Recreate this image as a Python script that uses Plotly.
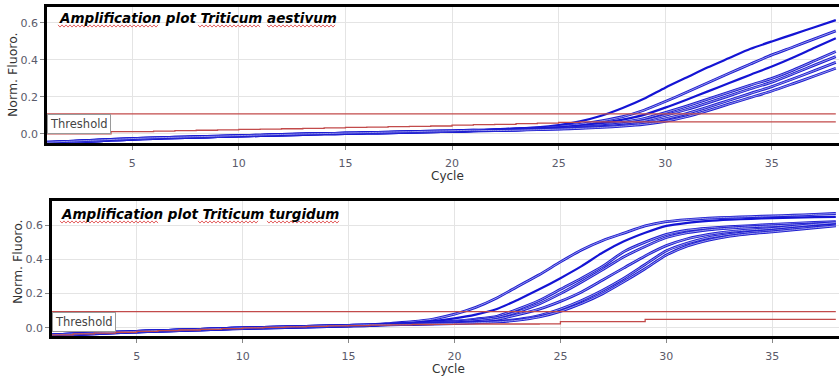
import plotly.graph_objects as go

W, H = 839, 377

cycles = list(range(1, 39))

# ---------- Top panel: Triticum aestivum ----------
top_base_a = [-0.045, -0.04, -0.035, -0.03, -0.025, -0.021, -0.018, -0.015, -0.012, -0.009, -0.006,
              -0.003, 0.0, 0.002, 0.005, 0.007, 0.01, 0.012, 0.015, 0.017, 0.02]
top_base_b = [-0.05, -0.045, -0.04, -0.034, -0.029, -0.025, -0.021, -0.018, -0.015, -0.012, -0.009,
              -0.006, -0.003, 0.0, 0.002, 0.004, 0.006, 0.009, 0.011, 0.013, 0.016]
top_tail_1 = [0.025, 0.03, 0.036, 0.048, 0.068, 0.098, 0.14, 0.19, 0.25, 0.305, 0.36, 0.41, 0.46, 0.50, 0.538, 0.577, 0.615]
top_tail_2 = [0.022, 0.027, 0.032, 0.04, 0.052, 0.07, 0.093, 0.128, 0.175, 0.225, 0.277, 0.328, 0.378, 0.427, 0.47, 0.514, 0.557]
top_tail_3 = [0.022, 0.026, 0.03, 0.035, 0.045, 0.058, 0.077, 0.103, 0.142, 0.185, 0.23, 0.275, 0.32, 0.364, 0.413, 0.466, 0.517]
top_tail_4 = [0.02, 0.024, 0.028, 0.032, 0.04, 0.05, 0.063, 0.083, 0.115, 0.15, 0.188, 0.226, 0.264, 0.30, 0.345, 0.395, 0.445]
top_tail_5 = [0.02, 0.023, 0.027, 0.03, 0.036, 0.044, 0.055, 0.072, 0.1, 0.132, 0.168, 0.206, 0.244, 0.28, 0.325, 0.372, 0.418]
top_tail_6 = [0.018, 0.021, 0.025, 0.028, 0.033, 0.039, 0.047, 0.06, 0.082, 0.11, 0.145, 0.182, 0.219, 0.256, 0.298, 0.342, 0.387]
top_tail_7 = [0.018, 0.02, 0.023, 0.026, 0.03, 0.035, 0.042, 0.052, 0.068, 0.093, 0.126, 0.162, 0.197, 0.232, 0.272, 0.313, 0.355]

top_curves = [
    top_base_a + top_tail_1,
    top_base_b + top_tail_2,
    top_base_a + top_tail_3,
    top_base_b + top_tail_4,
    top_base_a + top_tail_5,
    top_base_b + top_tail_6,
    top_base_a + top_tail_7,
]
top_hollow = [False, True, False, True, True, True, True]

top_red_low = [0.0, 0.0, 0.0, 0.012, 0.013, 0.015, 0.018, 0.02, 0.022, 0.025, 0.026, 0.028, 0.03, 0.033,
               0.035, 0.037, 0.039, 0.041, 0.043, 0.048, 0.05, 0.052, 0.056, 0.058, 0.062, 0.065, 0.065,
               0.065, 0.065, 0.065, 0.065, 0.065, 0.065, 0.065, 0.065, 0.065, 0.065, 0.065]
top_threshold = 0.108

# ---------- Bottom panel: Triticum turgidum ----------
bot_base_a = [-0.04, -0.035, -0.03, -0.025, -0.02, -0.016, -0.012, -0.008, -0.004, 0.0, 0.003, 0.006,
              0.009, 0.012, 0.015, 0.018]
bot_base_b = [-0.045, -0.04, -0.034, -0.029, -0.024, -0.02, -0.016, -0.012, -0.008, -0.004, -0.001,
              0.002, 0.005, 0.008, 0.011, 0.014]
bot_tail_a = [0.027, 0.036, 0.052, 0.08, 0.12, 0.175, 0.243, 0.31, 0.385, 0.455, 0.51, 0.553, 0.595, 0.62, 0.632, 0.64, 0.645, 0.649, 0.653, 0.657, 0.662, 0.667]
bot_tail_b = [0.024, 0.03, 0.04, 0.056, 0.078, 0.11, 0.165, 0.225, 0.29, 0.36, 0.44, 0.505, 0.555, 0.595, 0.613, 0.624, 0.631, 0.636, 0.64, 0.643, 0.646, 0.648]
bot_tail_c = [0.022, 0.027, 0.033, 0.04, 0.052, 0.068, 0.11, 0.16, 0.225, 0.29, 0.36, 0.445, 0.5, 0.545, 0.57, 0.582, 0.59, 0.597, 0.604, 0.61, 0.615, 0.619]
bot_tail_d = [0.021, 0.025, 0.03, 0.035, 0.045, 0.06, 0.095, 0.14, 0.2, 0.268, 0.34, 0.415, 0.475, 0.527, 0.555, 0.572, 0.582, 0.59, 0.595, 0.601, 0.606, 0.61]
bot_tail_e = [0.02, 0.024, 0.027, 0.03, 0.036, 0.05, 0.078, 0.11, 0.155, 0.21, 0.28, 0.35, 0.42, 0.48, 0.52, 0.545, 0.562, 0.572, 0.58, 0.592, 0.604, 0.614]
bot_tail_f = [0.019, 0.022, 0.025, 0.028, 0.032, 0.038, 0.05, 0.072, 0.11, 0.16, 0.22, 0.29, 0.37, 0.45, 0.495, 0.527, 0.545, 0.558, 0.568, 0.58, 0.59, 0.6]
bot_tail_g = [0.018, 0.02, 0.023, 0.025, 0.03, 0.035, 0.045, 0.064, 0.097, 0.143, 0.2, 0.27, 0.345, 0.425, 0.478, 0.512, 0.535, 0.55, 0.56, 0.572, 0.584, 0.595]

bot_curves = [
    bot_base_a + bot_tail_a,
    bot_base_b + bot_tail_b,
    bot_base_a + bot_tail_c,
    bot_base_b + bot_tail_d,
    bot_base_a + bot_tail_e,
    bot_base_b + bot_tail_f,
    bot_base_a + bot_tail_g,
]
bot_hollow = [True, False, True, True, True, True, True]

bot_red_low = [-0.04, -0.035, -0.03, -0.025, -0.02, -0.016, -0.012, -0.008, -0.004, 0.0, 0.003, 0.006,
               0.009, 0.012, 0.014, 0.016, 0.018, 0.02, 0.021, 0.022, 0.023, 0.023, 0.023, 0.024, 0.037,
               0.037, 0.037, 0.037, 0.05, 0.05, 0.05, 0.05, 0.05, 0.05, 0.05, 0.05, 0.05, 0.05]
bot_threshold = 0.095

titles = ["Amplification plot Triticum aestivum", "Amplification plot Triticum turgidum"]
x_ticks = [5, 10, 15, 20, 25, 30, 35]
y_ticks = [0.0, 0.2, 0.4, 0.6]
y_tick_text = ["0.0", "0.2", "0.4", "0.6"]

BLUE = "#1c1cd0"
BLUE_IN = "#a8a8ee"
RED = "#c24a4a"

fig = go.Figure()


def add_panel(curves, hollow, red_low, thr, xa, ya):
    for vals, hol in zip(curves, hollow):
        if hol:
            fig.add_trace(go.Scatter(x=cycles, y=vals, mode="lines", xaxis=xa, yaxis=ya,
                                     line=dict(color=BLUE, width=2.8, shape="spline", smoothing=0.6),
                                     hoverinfo="skip"))
            fig.add_trace(go.Scatter(x=cycles, y=vals, mode="lines", xaxis=xa, yaxis=ya,
                                     line=dict(color=BLUE_IN, width=0.9, shape="spline", smoothing=0.6),
                                     hoverinfo="skip"))
        else:
            fig.add_trace(go.Scatter(x=cycles, y=vals, mode="lines", xaxis=xa, yaxis=ya,
                                     line=dict(color="#1414d4", width=2.2, shape="spline", smoothing=0.6),
                                     hoverinfo="skip"))
    fig.add_trace(go.Scatter(x=cycles, y=red_low, mode="lines", xaxis=xa, yaxis=ya,
                             line=dict(color=RED, width=1.3, shape="hv"), hoverinfo="skip"))
    fig.add_trace(go.Scatter(x=[cycles[0], cycles[-1]], y=[thr, thr], mode="lines", xaxis=xa, yaxis=ya,
                             line=dict(color=RED, width=1.3), hoverinfo="skip"))


add_panel(top_curves, top_hollow, top_red_low, top_threshold, "x", "y")
add_panel(bot_curves, bot_hollow, bot_red_low, bot_threshold, "x2", "y2")


def px_x(p):
    return p / W


def px_y(p):
    return 1 - p / H


tick_font = dict(family="DejaVu Sans", size=11, color="#5a5a6a")
common_x = dict(range=[1, 38.15], tickvals=x_ticks, showgrid=True, gridcolor="#e4e4e4", gridwidth=1,
                showline=True, linecolor="black", linewidth=2.5, mirror=True, ticks="outside",
                ticklen=4, tickcolor="#888888", tickfont=tick_font, zeroline=False, automargin=False,
                ticklabelstandoff=4)
common_y = dict(tickvals=y_ticks, ticktext=y_tick_text, showgrid=True, gridcolor="#e4e4e4", gridwidth=1,
                showline=True, linecolor="black", linewidth=2.5, ticks="outside", ticklen=4,
                tickcolor="#888888", tickfont=tick_font, zeroline=False, automargin=False)

fig.update_layout(
    width=W, height=H, margin=dict(l=0, r=0, t=0, b=0),
    paper_bgcolor="white", plot_bgcolor="white", showlegend=False,
    xaxis=dict(domain=[px_x(47), 1], anchor="y", **common_x),
    yaxis=dict(domain=[px_y(143), px_y(7)], anchor="x", range=[-0.049, 0.686], **common_y),
    xaxis2=dict(domain=[px_x(52), 1], anchor="y2", **common_x),
    yaxis2=dict(domain=[px_y(336), px_y(201)], anchor="x2", range=[-0.047, 0.74], **common_y),
)

annotations = []
# titles
for t, (xl, yc) in zip(titles, [(57, 18), (59, 214)]):
    annotations.append(dict(text="<b><i>" + t + "</i></b>", xref="paper", yref="paper",
                            x=px_x(xl), y=px_y(yc), xanchor="left", yanchor="middle", showarrow=False,
                            font=dict(family="DejaVu Sans", size=13.5, color="black")))
# axis titles
for (cx, cy) in [(447, 176), (448, 369)]:
    annotations.append(dict(text="Cycle", xref="paper", yref="paper", x=px_x(cx), y=px_y(cy),
                            xanchor="center", yanchor="middle", showarrow=False,
                            font=dict(family="DejaVu Sans", size=12, color="#333333")))
for (cx, cy) in [(13, 75), (17, 262)]:
    annotations.append(dict(text="Norm. Fluoro.", xref="paper", yref="paper", x=px_x(cx), y=px_y(cy),
                            xanchor="center", yanchor="middle", showarrow=False, textangle=-90,
                            font=dict(family="DejaVu Sans", size=12.5, color="#333333")))
# threshold labels
for (xr, yr, thr) in [("x", "y", top_threshold), ("x2", "y2", bot_threshold)]:
    annotations.append(dict(text="Threshold", xref=xr, yref=yr, x=1, y=thr, xanchor="left", yanchor="top",
                            showarrow=False, bgcolor="white", bordercolor="#9a9a9a", borderwidth=1,
                            borderpad=2, font=dict(family="DejaVu Sans", size=11.5, color="#444444")))
fig.update_layout(annotations=annotations)


# red spell-check squiggles under title words
def squiggle(x0, x1, y, amp=1.1, step=2.0):
    pts = []
    x = x0
    k = 0
    while x <= x1:
        yy = y + (amp if k % 2 else -amp)
        pts.append((x, yy))
        x += step
        k += 1
    d = "M " + " L ".join("%.5f,%.5f" % (px_x(a), px_y(b)) for a, b in pts)
    return dict(type="path", path=d, xref="paper", yref="paper",
                line=dict(color="#e05050", width=0.9), layer="above")


shapes = []
for (a, b, yy) in [(58, 158, 26), (198, 260, 26), (267, 335, 26),
                   (60, 158, 222), (198, 258, 222), (267, 340, 222)]:
    shapes.append(squiggle(a, b, yy))
fig.update_layout(shapes=shapes)

fig.write_html("out.html", config={"displayModeBar": False},
               post_script="document.body.style.margin='0px';document.body.style.overflow='hidden';")
